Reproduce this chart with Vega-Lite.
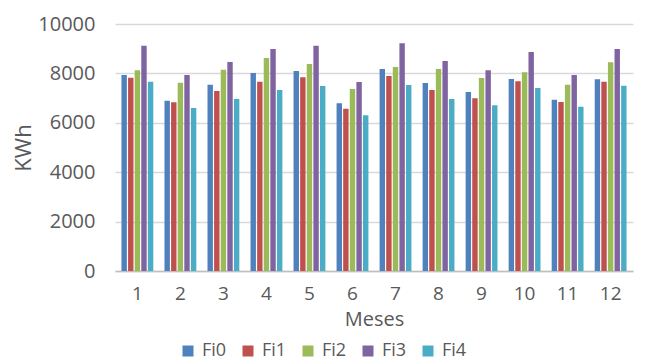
{
  "$schema": "https://vega.github.io/schema/vega-lite/v6.json",
  "autosize": {"type": "none"},
  "width": 518,
  "height": 247,
  "padding": {"left": 115, "top": 24, "right": 23, "bottom": 93},
  "background": "white",
  "data": {"values": [
    {"m":1,"s":"Fi0","v":7935},{"m":1,"s":"Fi1","v":7826},{"m":1,"s":"Fi2","v":8125},{"m":1,"s":"Fi3","v":9121},{"m":1,"s":"Fi4","v":7664},
    {"m":2,"s":"Fi0","v":6895},{"m":2,"s":"Fi1","v":6830},{"m":2,"s":"Fi2","v":7623},{"m":2,"s":"Fi3","v":7935},{"m":2,"s":"Fi4","v":6599},
    {"m":3,"s":"Fi0","v":7543},{"m":3,"s":"Fi1","v":7287},{"m":3,"s":"Fi2","v":8150},{"m":3,"s":"Fi3","v":8462},{"m":3,"s":"Fi4","v":6963},
    {"m":4,"s":"Fi0","v":8016},{"m":4,"s":"Fi1","v":7664},{"m":4,"s":"Fi2","v":8623},{"m":4,"s":"Fi3","v":8988},{"m":4,"s":"Fi4","v":7328},
    {"m":5,"s":"Fi0","v":8097},{"m":5,"s":"Fi1","v":7842},{"m":5,"s":"Fi2","v":8381},{"m":5,"s":"Fi3","v":9121},{"m":5,"s":"Fi4","v":7490},
    {"m":6,"s":"Fi0","v":6789},{"m":6,"s":"Fi1","v":6571},{"m":6,"s":"Fi2","v":7368},{"m":6,"s":"Fi3","v":7652},{"m":6,"s":"Fi4","v":6304},
    {"m":7,"s":"Fi0","v":8178},{"m":7,"s":"Fi1","v":7895},{"m":7,"s":"Fi2","v":8259},{"m":7,"s":"Fi3","v":9219},{"m":7,"s":"Fi4","v":7530},
    {"m":8,"s":"Fi0","v":7611},{"m":8,"s":"Fi1","v":7328},{"m":8,"s":"Fi2","v":8178},{"m":8,"s":"Fi3","v":8502},{"m":8,"s":"Fi4","v":6964},
    {"m":9,"s":"Fi0","v":7247},{"m":9,"s":"Fi1","v":6992},{"m":9,"s":"Fi2","v":7814},{"m":9,"s":"Fi3","v":8125},{"m":9,"s":"Fi4","v":6708},
    {"m":10,"s":"Fi0","v":7773},{"m":10,"s":"Fi1","v":7680},{"m":10,"s":"Fi2","v":8045},{"m":10,"s":"Fi3","v":8866},{"m":10,"s":"Fi4","v":7409},
    {"m":11,"s":"Fi0","v":6935},{"m":11,"s":"Fi1","v":6842},{"m":11,"s":"Fi2","v":7543},{"m":11,"s":"Fi3","v":7935},{"m":11,"s":"Fi4","v":6652},
    {"m":12,"s":"Fi0","v":7760},{"m":12,"s":"Fi1","v":7664},{"m":12,"s":"Fi2","v":8448},{"m":12,"s":"Fi3","v":8988},{"m":12,"s":"Fi4","v":7503}
  ]},
  "mark": {"type": "bar"},
  "encoding": {
    "x": {
      "field": "m", "type": "ordinal", "title": "Meses",
      "scale": {"paddingInner": 0.26, "paddingOuter": 0.15},
      "axis": {"labelAngle": 0, "labelFontSize": 19, "labelColor": "#595959", "labelFont": "Open Sans", "labelPadding": 13,
               "ticks": false, "domainColor": "#bfbfbf", "domainWidth": 1.5,
               "titleFontSize": 20, "titleFont": "Open Sans", "titleColor": "#595959", "titleFontWeight": "normal", "titlePadding": 6}
    },
    "xOffset": {"field": "s", "type": "nominal", "scale": {"paddingInner": 0.18}},
    "y": {
      "field": "v", "type": "quantitative", "title": "KWh",
      "scale": {"domain": [0, 10000]},
      "axis": {"values": [0,2000,4000,6000,8000,10000], "format": "d", "labelFontSize": 20, "labelColor": "#595959", "labelFont": "Open Sans",
               "labelPadding": 20, "ticks": false, "domain": false, "gridColor": "#d9d9d9", "gridWidth": 1.5,
               "titleFontSize": 22, "titleFont": "Open Sans", "titleColor": "#595959", "titleFontWeight": "normal", "titlePadding": 2}
    },
    "color": {
      "field": "s", "type": "nominal",
      "scale": {"range": ["#4F81BD", "#C0504D", "#9BBB59", "#8064A2", "#4BACC6"]},
      "legend": {"title": null, "orient": "none", "legendX": 64, "legendY": 318, "direction": "horizontal",
                 "symbolType": "square", "symbolSize": 121, "symbolStrokeWidth": 0, "labelFontSize": 18, "labelFont": "Open Sans",
                 "labelColor": "#595959", "columnPadding": 12, "labelOffset": 5}
    }
  },
  "config": {"view": {"stroke": null}}
}
